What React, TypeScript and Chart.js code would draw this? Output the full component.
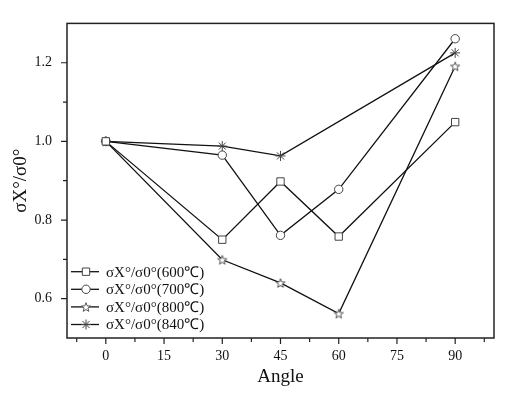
import React, { useEffect, useRef } from 'react';
import { Chart, registerables } from 'chart.js';
import { drawPoint } from 'chart.js/helpers';

Chart.register(...registerables);

const angles600 = [0, 30, 45, 60, 90];
const values600 = [1.0, 0.75, 0.898, 0.758, 1.049];
const angles700 = [0, 30, 45, 60, 90];
const values700 = [1.0, 0.965, 0.761, 0.878, 1.261];
const angles800 = [0, 30, 45, 60, 90];
const values800 = [1.0, 0.699, 0.64, 0.562, 1.191];
const angles840 = [0, 30, 45, 90];
const values840 = [1.0, 0.988, 0.963, 1.225];

const seriesLabels = [
  'σX°/σ0°(600℃)',
  'σX°/σ0°(700℃)',
  'σX°/σ0°(800℃)',
  'σX°/σ0°(840℃)',
];

const xMajorTicks = [0, 15, 30, 45, 60, 75, 90];
const xMinorTicks = [-7.5, 7.5, 22.5, 37.5, 52.5, 67.5, 82.5, 97.5];
const yMajorTicks = [0.6, 0.8, 1.0, 1.2];
const yMinorTicks = [0.7, 0.9, 1.1];

const FONT = "'Liberation Serif', 'Times New Roman', serif";
const MARKER = '#444';

function makeStar(): HTMLCanvasElement {
  const c = document.createElement('canvas');
  const s = 12;
  c.width = s;
  c.height = s;
  const ctx = c.getContext('2d')!;
  const cx = s / 2, cy = s / 2 + 0.5, R = 4.8, r = 2.0;
  ctx.beginPath();
  for (let i = 0; i < 10; i++) {
    const rad = i % 2 === 0 ? R : r;
    const a = -Math.PI / 2 + (i * Math.PI) / 5;
    const px = cx + rad * Math.cos(a), py = cy + rad * Math.sin(a);
    if (i === 0) ctx.moveTo(px, py); else ctx.lineTo(px, py);
  }
  ctx.closePath();
  ctx.fillStyle = '#fff';
  ctx.fill();
  ctx.strokeStyle = MARKER;
  ctx.lineWidth = 0.9;
  ctx.stroke();
  return c;
}

export default function App() {
  const ref = useRef<HTMLCanvasElement | null>(null);

  useEffect(() => {
    if (!ref.current) return;
    const star = makeStar();
    const styles: any[] = ['rect', 'circle', star, 'star'];
    const radii = [5.2, 4.2, 5, 5];

    const mk = (xs: number[], ys: number[]) => xs.map((x, i) => ({ x, y: ys[i] }));
    const datas = [
      mk(angles600, values600),
      mk(angles700, values700),
      mk(angles800, values800),
      mk(angles840, values840),
    ];

    const framePlugin = {
      id: 'frame',
      afterDraw(chart: any) {
        const { ctx, chartArea: a, scales } = chart;
        const xs = scales.x, ys = scales.y;
        ctx.save();
        ctx.strokeStyle = '#222';
        ctx.lineWidth = 1.5;
        ctx.strokeRect(a.left, a.top, a.right - a.left, a.bottom - a.top);
        ctx.lineWidth = 1.2;
        ctx.beginPath();
        xMajorTicks.forEach((v) => {
          const p = xs.getPixelForValue(v);
          ctx.moveTo(p, a.bottom);
          ctx.lineTo(p, a.bottom + 6);
        });
        xMinorTicks.forEach((v) => {
          const p = xs.getPixelForValue(v);
          ctx.moveTo(p, a.bottom);
          ctx.lineTo(p, a.bottom + 4);
        });
        yMajorTicks.forEach((v) => {
          const p = ys.getPixelForValue(v);
          ctx.moveTo(a.left, p);
          ctx.lineTo(a.left - 6, p);
        });
        yMinorTicks.forEach((v) => {
          const p = ys.getPixelForValue(v);
          ctx.moveTo(a.left, p);
          ctx.lineTo(a.left - 4, p);
        });
        ctx.stroke();

        // legend
        const rowH = 17.6;
        const baseY = a.bottom - 13.5 - rowH * (seriesLabels.length - 1);
        ctx.font = `15px ${FONT}`;
        ctx.textBaseline = 'middle';
        ctx.fillStyle = '#111';
        seriesLabels.forEach((lab, i) => {
          const y = baseY + i * rowH;
          const x0 = a.left + 4;
          ctx.strokeStyle = '#111';
          ctx.lineWidth = 1.3;
          ctx.beginPath();
          ctx.moveTo(x0, y);
          ctx.lineTo(x0 + 28, y);
          ctx.stroke();
          ctx.fillStyle = '#fff';
          ctx.strokeStyle = MARKER;
          ctx.lineWidth = 1;
          drawPoint(ctx, { pointStyle: styles[i], radius: radii[i], borderWidth: 1, rotation: 0 }, x0 + 15, y);
          ctx.fillStyle = '#111';
          ctx.fillText(lab, x0 + 35, y + 1);
        });
        ctx.restore();
      },
    };

    const chart = new Chart(ref.current, {
      type: 'line',
      data: {
        datasets: datas.map((d, i) => ({
          label: seriesLabels[i],
          data: d,
          borderColor: '#111',
          borderWidth: 1.3,
          pointStyle: styles[i],
          pointRadius: radii[i],
          pointBackgroundColor: '#fff',
          pointBorderColor: MARKER,
          pointBorderWidth: 1,
          fill: false,
          tension: 0,
        })),
      },
      options: {
        animation: false,
        responsive: false,
        maintainAspectRatio: false,
        layout: { padding: { left: 0, right: 26, top: 22, bottom: 0 } },
        plugins: { legend: { display: false }, tooltip: { enabled: false } },
        scales: {
          x: {
            type: 'linear',
            min: -10,
            max: 100,
            grid: { display: false, drawTicks: false },
            border: { display: false },
            afterBuildTicks: (s: any) => {
              s.ticks = xMajorTicks.map((v) => ({ value: v }));
            },
            afterFit: (s: any) => {
              s.height = 60;
            },
            ticks: {
              padding: 10,
              maxRotation: 0,
              autoSkip: false,
              color: '#111',
              font: { family: FONT, size: 14 },
              callback: (v: any) => String(v),
            },
            title: {
              display: true,
              text: 'Angle',
              color: '#111',
              font: { family: FONT, size: 19 },
              padding: { top: 0, bottom: 10 },
            },
          },
          y: {
            type: 'linear',
            min: 0.5,
            max: 1.3,
            grid: { display: false, drawTicks: false },
            border: { display: false },
            afterBuildTicks: (s: any) => {
              s.ticks = yMajorTicks.map((v) => ({ value: v }));
            },
            afterFit: (s: any) => {
              s.width = 67;
            },
            ticks: {
              padding: 15,
              autoSkip: false,
              color: '#111',
              font: { family: FONT, size: 14 },
              callback: (v: any) => Number(v).toFixed(1),
            },
            title: {
              display: true,
              text: 'σX°/σ0°',
              color: '#111',
              font: { family: FONT, size: 19 },
              padding: { top: 10, bottom: 0 },
            },
          },
        },
      },
      plugins: [framePlugin],
    } as any);

    return () => chart.destroy();
  }, []);

  return (
    <div style={{ position: 'fixed', left: 0, top: 0, width: 520, height: 398, background: '#fff' }}>
      <canvas ref={ref} width={520} height={398} style={{ width: 520, height: 398 }} />
    </div>
  );
}
